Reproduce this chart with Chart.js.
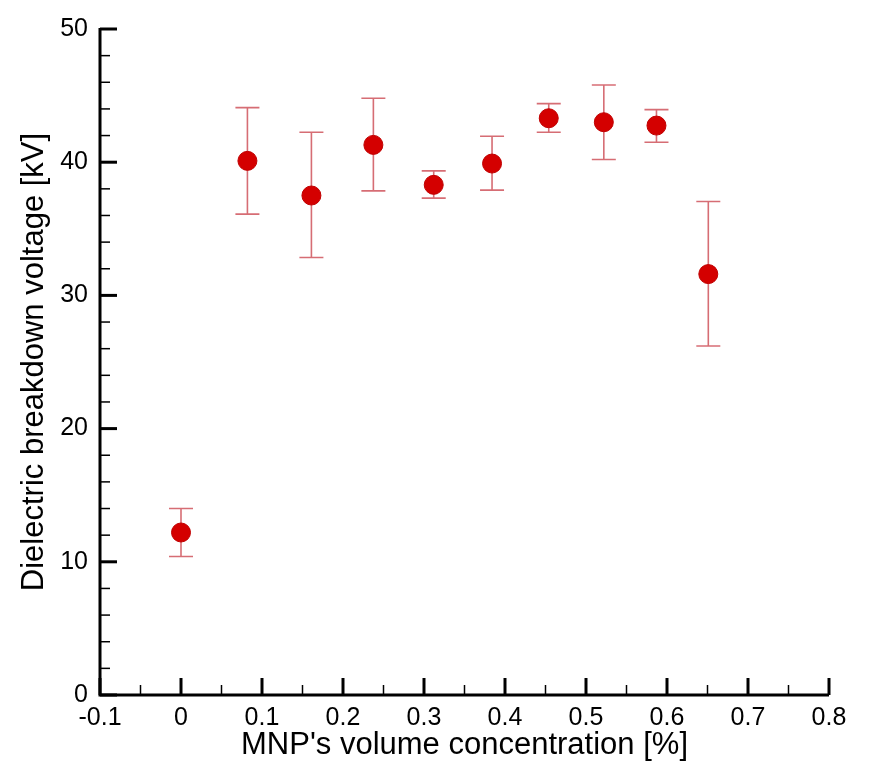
<!DOCTYPE html>
<html><head><meta charset="utf-8">
<script src="https://cdn.jsdelivr.net/npm/chart.js@4.4.1/dist/chart.umd.min.js"></script>
<style>html,body{margin:0;padding:0;background:#fff;}#wrap{width:891px;height:768px;}</style>
</head><body><div id="wrap"><canvas id="c" width="891" height="768"></canvas></div>
<script>
const concentration = [0, 0.082, 0.161, 0.2375, 0.312, 0.384, 0.454, 0.522, 0.587, 0.651];
const breakdown     = [12.2, 40.1, 37.5, 41.3, 38.3, 39.9, 43.3, 43.0, 42.75, 31.6];
const errLow        = [10.4, 36.1, 32.85, 37.85, 37.3, 37.9, 42.25, 40.2, 41.5, 26.2];
const errHigh       = [14.0, 44.1, 42.25, 44.8, 39.35, 41.95, 44.4, 45.8, 43.95, 37.05];
const xMajorTicks = [-0.1, 0, 0.1, 0.2, 0.3, 0.4, 0.5, 0.6, 0.7, 0.8];
const yMajorTicks = [0, 10, 20, 30, 40, 50];

const FONT = "'Liberation Sans', Arial, sans-serif";

const errorBars = {
  id: 'errorBars',
  beforeDatasetsDraw(chart) {
    const {ctx, scales: {x, y}} = chart;
    ctx.save();
    ctx.strokeStyle = 'rgba(200,60,70,0.75)';
    ctx.lineWidth = 1.6;
    concentration.forEach((cx, i) => {
      const px = x.getPixelForValue(cx);
      const lo = y.getPixelForValue(errLow[i]);
      const hi = y.getPixelForValue(errHigh[i]);
      ctx.beginPath();
      ctx.moveTo(px, lo); ctx.lineTo(px, hi);
      ctx.moveTo(px - 12, lo); ctx.lineTo(px + 12, lo);
      ctx.moveTo(px - 12, hi); ctx.lineTo(px + 12, hi);
      ctx.stroke();
    });
    ctx.restore();
  }
};

const inwardTicks = {
  id: 'inwardTicks',
  afterDraw(chart) {
    const {ctx, scales: {x, y}, chartArea: a} = chart;
    ctx.save();
    ctx.strokeStyle = '#000';
    y.ticks.forEach(t => {
      const v = t.value;
      const major = Math.abs(v / 10 - Math.round(v / 10)) < 1e-6;
      const py = y.getPixelForValue(v);
      ctx.lineWidth = major ? 3 : 1.5;
      ctx.beginPath(); ctx.moveTo(a.left, py); ctx.lineTo(a.left + (major ? 17 : 10), py); ctx.stroke();
    });
    x.ticks.forEach(t => {
      const v = t.value;
      const major = Math.abs(v * 10 - Math.round(v * 10)) < 1e-6;
      const px = x.getPixelForValue(v);
      ctx.lineWidth = major ? 3 : 1.5;
      ctx.beginPath(); ctx.moveTo(px, a.bottom); ctx.lineTo(px, a.bottom - (major ? 17 : 10)); ctx.stroke();
    });
    ctx.lineWidth = 3;
    ctx.beginPath();
    ctx.moveTo(a.left, a.top - 1); ctx.lineTo(a.left, a.bottom);
    ctx.lineTo(a.right, a.bottom);
    ctx.stroke();
    ctx.restore();
  }
};

new Chart(document.getElementById('c'), {
  type: 'scatter',
  data: {
    datasets: [{
      data: concentration.map((c, i) => ({x: c, y: breakdown[i]})),
      backgroundColor: '#d40000',
      borderColor: '#c00000',
      borderWidth: 1,
      pointRadius: 9.5,
      pointHoverRadius: 9.5
    }]
  },
  options: {
    responsive: false,
    animation: false,
    events: [],
    layout: {padding: {left: 0, right: 62, top: 29, bottom: 0}},
    plugins: {legend: {display: false}, tooltip: {enabled: false}},
    scales: {
      x: {
        type: 'linear', min: -0.1, max: 0.8,
        afterBuildTicks(s) {
          const t = [];
          for (let k = -2; k <= 16; k++) t.push({value: +(k * 0.05).toFixed(2)});
          s.ticks = t;
        },
        afterFit(s) { s.height = 73; },
        grid: {display: false, drawTicks: false},
        border: {display: false},
        ticks: {
          padding: 8, color: '#000', maxRotation: 0, autoSkip: false,
          font: {family: FONT, size: 25},
          callback(v) {
            const r = Math.round(v * 10);
            if (Math.abs(v * 10 - r) > 1e-6) return '';
            return String(+(r / 10).toFixed(1));
          }
        },
        title: {display: true, text: "MNP's volume concentration [%]", color: '#000',
                font: {family: FONT, size: 31}, padding: {top: 0, bottom: 4}}
      },
      y: {
        type: 'linear', min: 0, max: 50,
        afterBuildTicks(s) {
          const t = [];
          for (let k = 0; k <= 50; k += 2) t.push({value: k});
          s.ticks = t;
        },
        afterFit(s) { s.width = 100; },
        grid: {display: false, drawTicks: false},
        border: {display: false},
        ticks: {
          padding: 12, color: '#000', autoSkip: false,
          font: {family: FONT, size: 25},
          callback(v) { return v % 10 === 0 ? String(v) : ''; }
        },
        title: {display: true, text: 'Dielectric breakdown voltage [kV]', color: '#000',
                font: {family: FONT, size: 31}, padding: {top: 16, bottom: 0}}
      }
    }
  },
  plugins: [errorBars, inwardTicks]
});
</script></body></html>
